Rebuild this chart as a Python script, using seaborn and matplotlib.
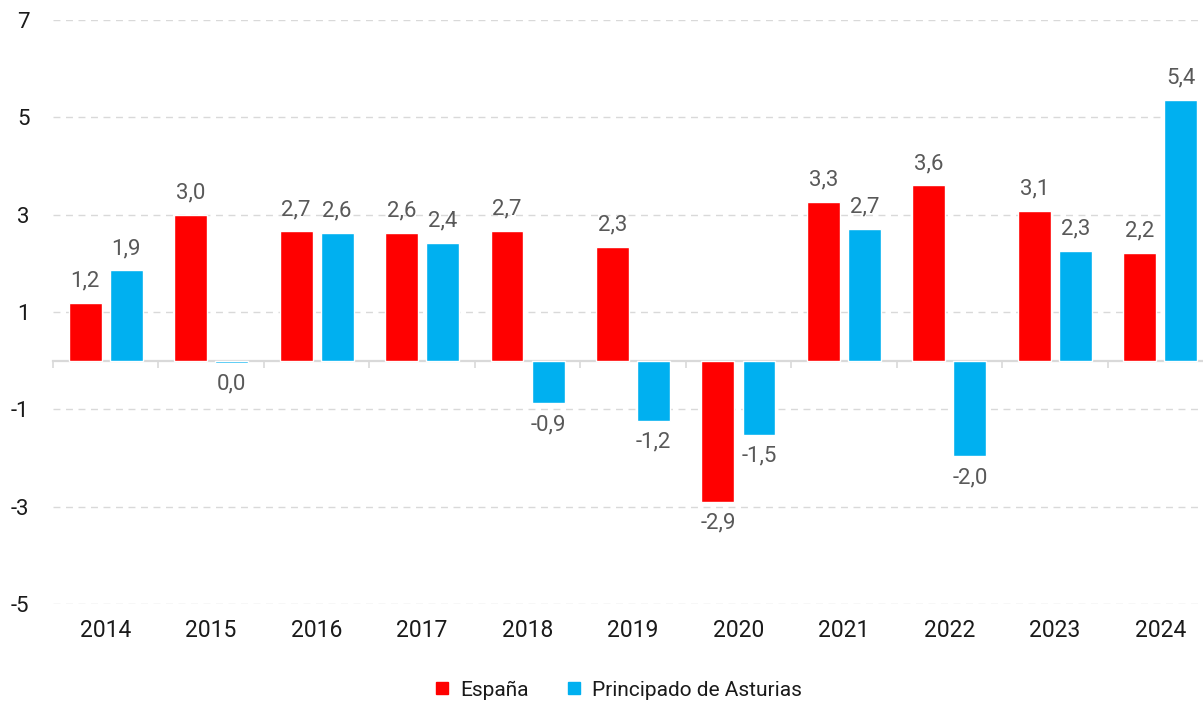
import pandas as pd
import matplotlib.pyplot as plt
import seaborn as sns

years = ["2014", "2015", "2016", "2017", "2018", "2019", "2020", "2021", "2022", "2023", "2024"]
espana = [1.19, 3.0, 2.66, 2.63, 2.67, 2.34, -2.9, 3.27, 3.6, 3.08, 2.22]
asturias = [1.86, -0.04, 2.63, 2.42, -0.88, -1.23, -1.52, 2.71, -1.96, 2.26, 5.36]
series = ["España", "Principado de Asturias"]
colors = ["#FF0000", "#00B0F0"]

df = pd.DataFrame({
    "year": years * 2,
    "value": espana + asturias,
    "serie": [series[0]] * len(years) + [series[1]] * len(years),
})

sns.set_style("white")
plt.rcParams["font.family"] = ["Roboto", "DejaVu Sans"]
plt.rcParams["axes.unicode_minus"] = False

fig = plt.figure(figsize=(12.03, 7.01), dpi=100)
ax = fig.add_axes([53 / 1203, 97 / 701, 1160 / 1203, 584 / 701])

sns.barplot(data=df, x="year", y="value", hue="serie", palette=colors,
            width=0.78, gap=0.2, ax=ax, legend=False, saturation=1)

ax.set_ylim(-5, 7)
ax.set_xlim(-0.5, len(years) - 0.5)
ax.set_yticks([-5, -3, -1, 1, 3, 5, 7])
ax.yaxis.grid(True, color="#D9D9D9", linestyle=(0, (5, 4)), linewidth=1)
ax.set_axisbelow(True)
for s in ax.spines.values():
    s.set_visible(False)
ax.tick_params(axis="y", length=0, pad=17, labelsize=16, labelcolor="#1a1a1a")
ax.tick_params(axis="x", length=0, pad=11, labelsize=16.5, labelcolor="#1a1a1a")
ax.set_xlabel("")
ax.set_ylabel("")

# zero line with category separators
zero = ax.secondary_xaxis(5 / 12)
zero.spines["bottom"].set_color("#D9D9D9")
zero.spines["bottom"].set_linewidth(1.6)
zero.set_xticks([i - 0.5 for i in range(len(years) + 1)])
zero.tick_params(axis="x", length=5, width=1.2, color="#D9D9D9", labelbottom=False)

for cont in ax.containers:
    labels = []
    for bar in cont:
        txt = f"{bar.get_height():.1f}".replace(".", ",")
        labels.append("0,0" if txt == "-0,0" else txt)
    ax.bar_label(cont, labels=labels, padding=8, fontsize=16, color="#595959")

handles = [plt.Rectangle((0, 0), 1, 1, color=c) for c in colors]
fig.legend(handles, series, loc="center", bbox_to_anchor=(619 / 1203, 1 - 690 / 701),
           ncol=2, frameon=False, fontsize=15, handlelength=0.55, handleheight=0.55,
           handletextpad=0.6, columnspacing=1.9, labelcolor="#1a1a1a")

plt.savefig("out.png", dpi=100)
